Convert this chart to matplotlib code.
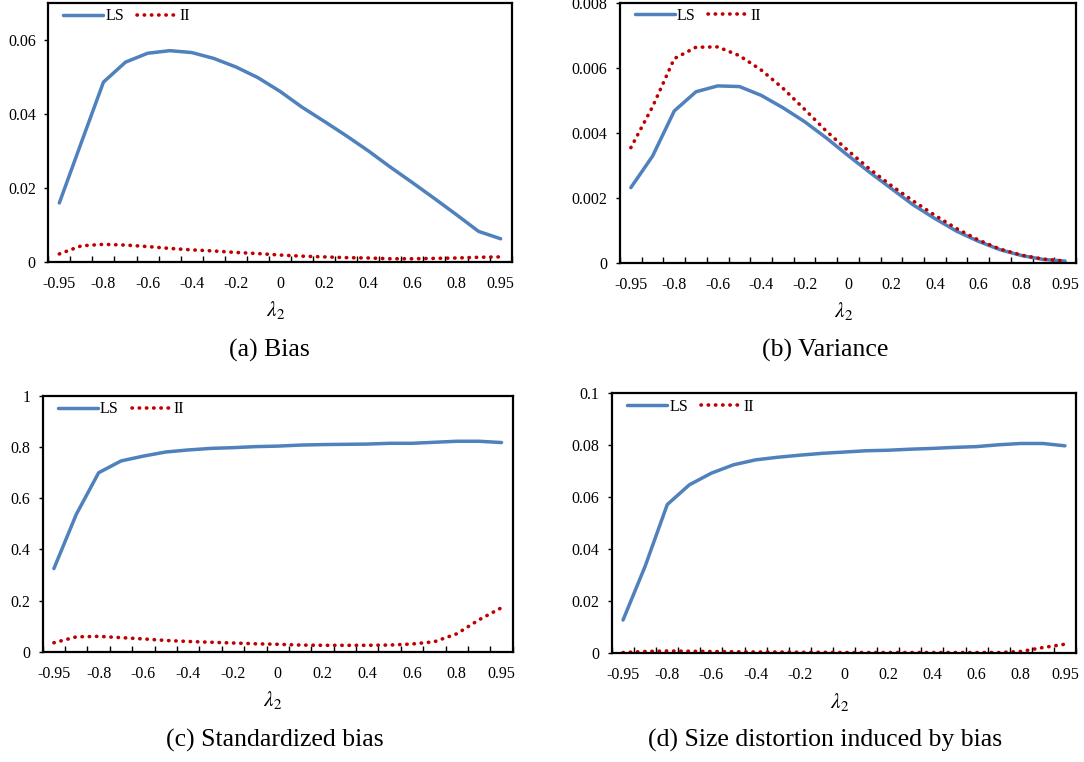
import numpy as np
import matplotlib
matplotlib.use('Agg')
import matplotlib.pyplot as plt

plt.rcParams['font.family'] = ['Liberation Serif', 'DejaVu Serif']
plt.rcParams['mathtext.fontset'] = 'stix'

# categorias do eixo x (lambda_2)
lam2 = [-0.95, -0.9, -0.8, -0.7, -0.6, -0.5, -0.4, -0.3, -0.2, -0.1, 0,
        0.1, 0.2, 0.3, 0.4, 0.5, 0.6, 0.7, 0.8, 0.9, 0.95]

# (a) Bias
bias_ls = [0.0159, 0.0323, 0.0486, 0.0540, 0.0564, 0.0571, 0.0566, 0.0550, 0.0527, 0.0498, 0.0461,
           0.0418, 0.0380, 0.0341, 0.0300, 0.0256, 0.0214, 0.0171, 0.0127, 0.0082, 0.0062]
bias_ii = [0.0021, 0.0043, 0.0047, 0.0045, 0.0041, 0.0036, 0.0032, 0.0029, 0.0025, 0.0022, 0.0018,
           0.0015, 0.0013, 0.0011, 0.0010, 0.0008, 0.0008, 0.0009, 0.0010, 0.0012, 0.0013]

# (b) Variance
var_ls = [0.00231, 0.00328, 0.00467, 0.00526, 0.00544, 0.00542, 0.00515, 0.00477, 0.00434, 0.00384, 0.00330,
          0.00278, 0.00228, 0.00178, 0.00136, 0.00097, 0.00066, 0.00040, 0.00022, 0.00010, 0.00005]
var_ii = [0.00354, 0.00480, 0.00628, 0.00663, 0.00664, 0.00637, 0.00593, 0.00537, 0.00472, 0.00405, 0.00345,
          0.00288, 0.00237, 0.00190, 0.00146, 0.00105, 0.00070, 0.00042, 0.00023, 0.00011, 0.00005]

# (c) Standardized bias
sb_ls = [0.325, 0.537, 0.700, 0.746, 0.765, 0.781, 0.789, 0.795, 0.798, 0.802, 0.804,
         0.808, 0.810, 0.811, 0.812, 0.815, 0.815, 0.819, 0.823, 0.823, 0.818]
sb_ii = [0.035, 0.058, 0.060, 0.055, 0.050, 0.044, 0.040, 0.037, 0.034, 0.031, 0.029,
         0.026, 0.025, 0.025, 0.025, 0.026, 0.030, 0.039, 0.070, 0.125, 0.172]

# (d) Size distortion induced by bias
sd_ls = [0.0128, 0.0335, 0.0572, 0.0648, 0.0693, 0.0725, 0.0744, 0.0754, 0.0762, 0.0769, 0.0774,
         0.0779, 0.0781, 0.0785, 0.0788, 0.0792, 0.0795, 0.0802, 0.0807, 0.0807, 0.0798]
sd_ii = [0.0003, 0.0007, 0.0009, 0.0008, 0.0007, 0.0006, 0.0005, 0.0005, 0.0004, 0.0004, 0.0003,
         0.0003, 0.0003, 0.0003, 0.0003, 0.0003, 0.0003, 0.0003, 0.0007, 0.0022, 0.0035]

W, H = 1084, 762
fig = plt.figure(figsize=(W / 100, H / 100), dpi=100)

def px_axes(l, t, r, b):  # caixa em pixels -> fração da figura
    return fig.add_axes([l / W, 1 - b / H, (r - l) / W, (b - t) / H])

paineis = [
    (px_axes(48.3, 3, 511.7, 261.7), bias_ls, bias_ii, 0.07, 0.02, '(a) Bias', 269, 350),
    (px_axes(620, 2.7, 1076, 262.7), var_ls, var_ii, 0.008, 0.002, '(b) Variance', 825, 350),
    (px_axes(42.7, 396, 512.7, 651.7), sb_ls, sb_ii, 1.0, 0.2, '(c) Standardized bias', 275, 740),
    (px_axes(612, 393.3, 1076, 653.3), sd_ls, sd_ii, 0.1, 0.02, '(d) Size distortion induced by bias', 825, 740),
]

x = np.arange(len(lam2))
for ax, ls, ii, ymax, ystep, titulo, cx, cy in paineis:
    ax.plot(x, ls, color='#4F81BD', lw=2.5, solid_capstyle='round', label='LS')
    ax.plot(x, ii, color='#C00000', lw=2.6, linestyle=(0, (0.1, 1.9)),
            dash_capstyle='round', label='II')
    ax.set_xlim(-0.5, len(lam2) - 0.5)
    ax.set_ylim(0, ymax)

    # rótulos a cada duas categorias, marcas entre categorias
    ax.set_xticks(x[::2])
    ax.set_xticklabels(['%g' % v for v in lam2[::2]])
    ax.set_xticks(np.arange(-0.5, len(lam2), 1), minor=True)
    ax.tick_params(axis='x', which='major', length=0, pad=10, labelsize=11.5)
    ax.tick_params(axis='x', which='minor', direction='in', length=4, width=1)

    yt = np.arange(0, ymax + ystep / 2, ystep)
    ax.set_yticks(yt)
    ax.set_yticklabels(['%g' % round(v, 4) for v in yt])
    ax.tick_params(axis='y', direction='out', length=3, width=1, pad=6, labelsize=11.5)

    for s in ax.spines.values():
        s.set_linewidth(1.6)

    ax.legend(loc='upper left', bbox_to_anchor=(0.032, 0.98), ncol=2, frameon=False,
              fontsize=11.5, handlelength=2.5, handletextpad=0.15, columnspacing=0.8,
              borderpad=0, borderaxespad=0)

    ax.text(0.49, -0.145, r'$\lambda_2$', transform=ax.transAxes, ha='center', va='top', fontsize=15.5)
    fig.text(cx / W, 1 - cy / H, titulo, ha='center', va='center', fontsize=18.5)

plt.savefig('out.png', dpi=100)
